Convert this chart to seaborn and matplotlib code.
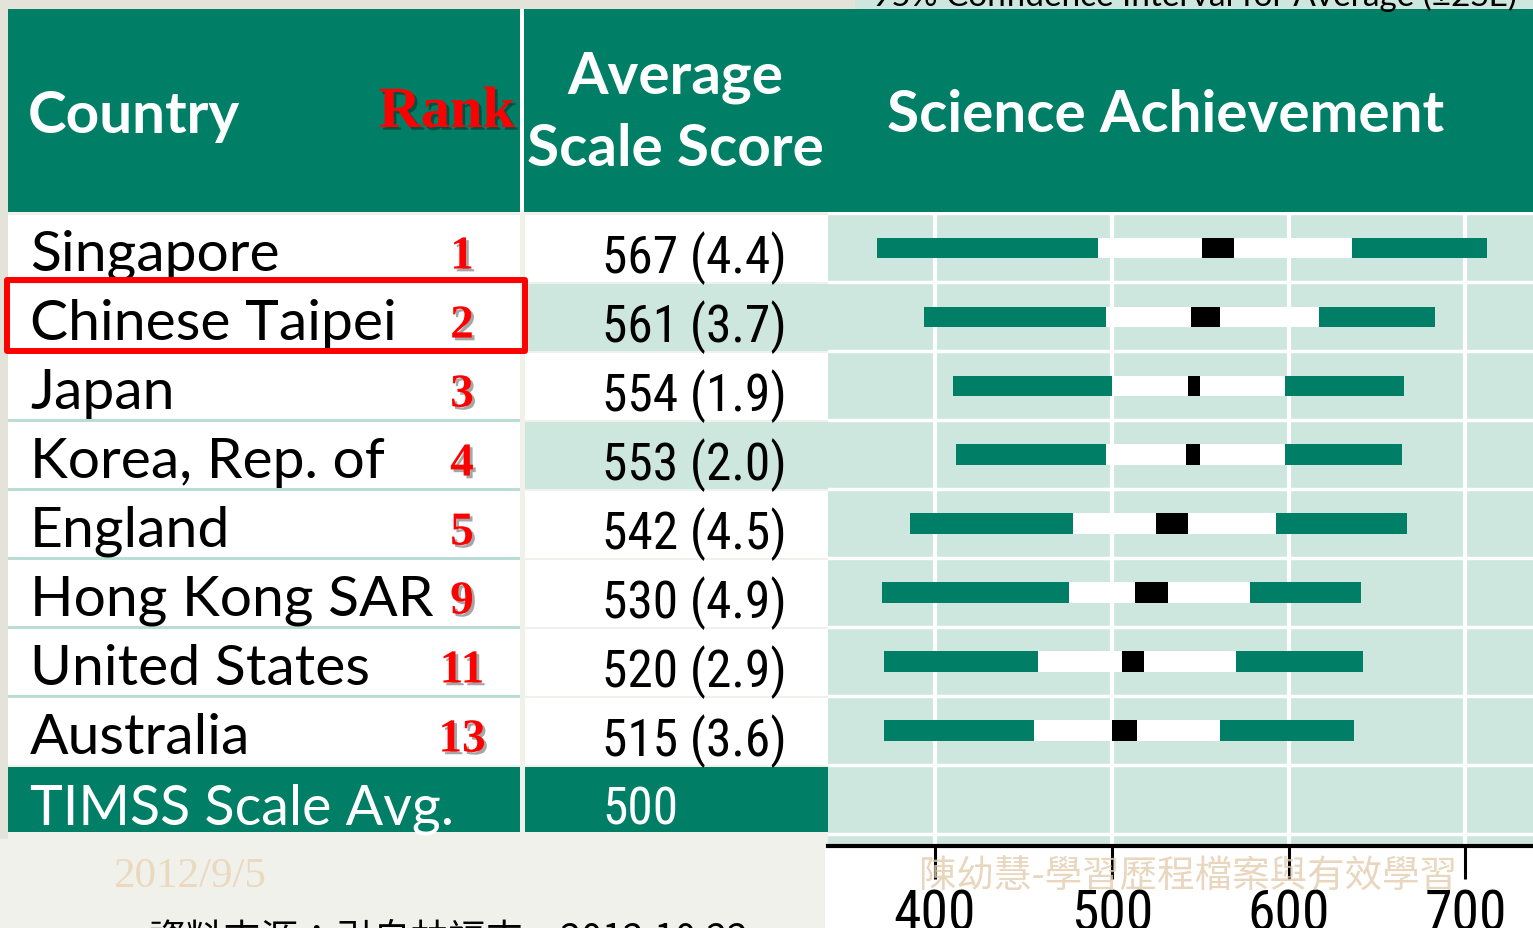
import numpy as np
import pandas as pd
import matplotlib
matplotlib.use("Agg")
import matplotlib.pyplot as plt
import matplotlib.patches as mpatches
import matplotlib.transforms as mtransforms
import matplotlib.patheffects as pe
from matplotlib import font_manager as fm
import seaborn as sns

# ---- data ----
countries = ["Singapore", "Chinese Taipei", "Japan", "Korea, Rep. of", "England",
             "Hong Kong SAR", "United States", "Australia"]
ranks = ["1", "2", "3", "4", "5", "9", "11", "13"]
avg_scores = ["567 (4.4)", "561 (3.7)", "554 (1.9)", "553 (2.0)", "542 (4.5)",
              "530 (4.9)", "520 (2.9)", "515 (3.6)"]
scale_avg_label = "TIMSS Scale Avg."
scale_avg = "500"

# percentile bars (5th, 25th, 75th, 95th) and the black +-2SE box, as drawn
p5 = [367, 394, 410, 412, 386, 370, 371, 371]
p25 = [492, 497, 500, 497, 478, 476, 458, 456]
ci_lo = [551, 545, 543, 542, 525, 513, 506, 500]
ci_hi = [569, 561, 550, 550, 543, 532, 518, 514]
p75 = [636, 617, 598, 598, 593, 578, 570, 561]
p95 = [712, 683, 665, 664, 667, 641, 642, 637]
x_ticks = [400, 500, 600, 700]

TEAL = "#007F66"
LIGHT = "#CDE7DF"
BG = "#F1F1EC"
GREY = "#E3E3D9"
TAN = "#EBD9BF"

W, H = 1533, 929

sns.set_theme(style="white")
names = {f.name for f in fm.fontManager.ttflist}
NARROW = next((n for n in ["Roboto Condensed", "Liberation Sans Narrow", "Lato"] if n in names), "DejaVu Sans")
plt.rcParams["font.family"] = ["Lato", "Noto Sans CJK TC", "DejaVu Sans"]


def fx(px):
    return px / W


def fy(py):
    return 1 - py / H


fig = plt.figure(figsize=(W / 100, H / 100), dpi=100, facecolor=BG)

# slide background bits
for (x0, y0, x1, y1, c) in [(0, 0, 8, 840, GREY), (0, 0, 855, 10, GREY),
                            (855, 0, W, 10, LIGHT), (8, 10, W, 213, TEAL),
                            (825, 847, W, H, "white")]:
    fig.add_artist(mpatches.Rectangle((fx(x0), fy(y1)), fx(x1) - fx(x0), fy(y0) - fy(y1),
                                      transform=fig.transFigure, color=c, lw=0, zorder=-2))
fig.add_artist(mpatches.Rectangle((fx(520), fy(213)), fx(524) - fx(520), fy(10) - fy(213),
                                  transform=fig.transFigure, color="white", lw=0, zorder=-1))

ax = fig.add_axes([fx(828), fy(847), fx(W) - fx(828), fy(213) - fy(847)])
ax.set_facecolor(LIGHT)

df = pd.DataFrame({"country": countries, "p5": p5, "p25": p25, "ci_lo": ci_lo,
                   "ci_hi": ci_hi, "p75": p75, "p95": p95})
rows = countries + [scale_avg_label]
segments = [("p5", "p25", TEAL), ("p25", "ci_lo", "white"), ("ci_lo", "ci_hi", "black"),
            ("ci_hi", "p75", "white"), ("p75", "p95", TEAL)]
for lo, hi, col in segments:
    df["w"] = df[hi] - df[lo]
    sns.barplot(data=df, x="w", y="country", order=rows, left=df[lo].to_numpy(),
                color=col, saturation=1, width=0.3, errorbar=None, orient="h",
                linewidth=0, ax=ax, zorder=2)

ax.set_xlim(339.5, 738.2)
ax.set_ylim(8.67, -0.52)
for v in x_ticks:
    ax.axvline(v, color="white", lw=3, zorder=0.5)
for i in range(len(rows) + 1):
    ax.axhline(i - 0.5, color="white", lw=2.5, zorder=0.5)
for s in ["left", "right", "top"]:
    ax.spines[s].set_visible(False)
ax.spines["bottom"].set_color("black")
ax.spines["bottom"].set_linewidth(3)
ax.set_xticks(x_ticks)
ax.set_xticklabels([str(t) for t in x_ticks], family=NARROW)
ax.tick_params(axis="x", length=24, width=2.2, pad=6, labelsize=40, colors="black", direction="out",
               bottom=True)
ax.set_yticks([])
ax.set_xlabel("")
ax.set_ylabel("")

# ---- table on the left, rows tied to the chart's y scale ----
trans = mtransforms.blended_transform_factory(fig.transFigure, ax.transData)
shadow = [pe.withSimplePatchShadow(offset=(2, -2), shadow_rgbFace="black", alpha=0.35)]
for i, name in enumerate(countries):
    fig.add_artist(mpatches.Rectangle((fx(8), i - 0.47), fx(520) - fx(8), 0.96, transform=trans,
                                      color="white", lw=0, zorder=-1))
    mid_col = LIGHT if i in (1, 3) else "white"
    fig.add_artist(mpatches.Rectangle((fx(525), i - 0.47), fx(828) - fx(525), 0.96, transform=trans,
                                      color=mid_col, lw=0, zorder=-1))
    fig.text(fx(30), i + 0.32, name, transform=trans, fontsize=41, color="black", ha="left", va="baseline")
    fig.text(fx(602), i + 0.35, avg_scores[i], transform=trans, fontsize=37, family=NARROW,
             color="black", ha="left", va="baseline")
    fig.text(fx(462), i + 0.30, ranks[i], transform=trans, fontsize=34, family="Liberation Serif",
             weight="bold", color="red", ha="center", va="baseline", path_effects=shadow)
    if i >= 2:
        fig.add_artist(mpatches.Rectangle((fx(8), i - 0.52), fx(520) - fx(8), 0.04, transform=trans,
                                          color="#B9DDD2", lw=0, zorder=-1))

n = len(countries)
for x0, x1 in [(8, 520), (525, 828)]:
    fig.add_artist(mpatches.Rectangle((fx(x0), n - 0.47), fx(x1) - fx(x0), 0.93, transform=trans,
                                      color=TEAL, lw=0, zorder=-1))
fig.text(fx(30), n + 0.35, scale_avg_label, transform=trans, fontsize=40, color="white", va="baseline")
fig.text(fx(602), n + 0.35, scale_avg, transform=trans, fontsize=37, family=NARROW, color="white",
         va="baseline")

# highlight box on Chinese Taipei
fig.add_artist(mpatches.Rectangle((fx(7), 1 - 0.54), fx(525) - fx(7), 1.03, transform=trans, fill=False,
                                  ec="#FF0000", lw=4.3, joinstyle="round", zorder=4))

# ---- header ----
fig.text(fx(28), fy(133), "Country", fontsize=42, weight="bold", color="white", va="baseline")
fig.text(fx(447), fy(128), "Rank", fontsize=42, family="Liberation Serif", weight="bold", color="red",
         ha="center", va="baseline", path_effects=shadow)
fig.text(fx(675), fy(93), "Average", fontsize=42, weight="bold", color="white", ha="center", va="baseline")
fig.text(fx(675), fy(166), "Scale Score", fontsize=42, weight="bold", color="white", ha="center",
         va="baseline")
fig.text(fx(1166), fy(132), "Science Achievement", fontsize=42, weight="bold", color="white",
         ha="center", va="baseline")
fig.text(fx(872), fy(6), "95% Confidence Interval for Average (\u00b12SE)", fontsize=24, color="black",
         va="baseline")

# ---- slide footer ----
fig.text(fx(190), fy(877), "2012/9/5", fontsize=31, family="Liberation Serif", color=TAN,
         ha="center", va="center")
fig.text(fx(1188), fy(877), "陳幼慧-學習歷程檔案與有效學習", fontsize=27, family=["Noto Sans CJK TC"],
         color="#E3CDAE", alpha=0.8, ha="center", va="center", zorder=5)
fig.text(fx(148), fy(921), "資料來源：引自林福來，2012.10.22", fontsize=27,
         family=["Noto Sans CJK TC", "DejaVu Sans"], color="black", ha="left", va="top")

fig.savefig("out.png", dpi=100, facecolor=BG)
